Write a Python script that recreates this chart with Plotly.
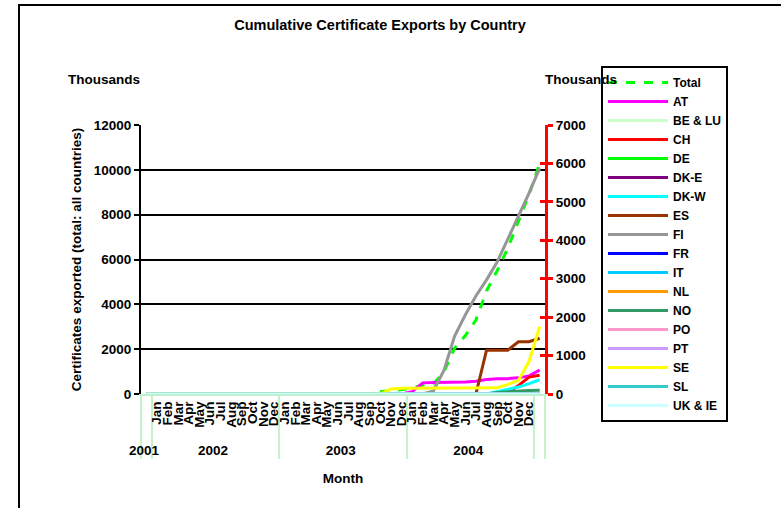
import plotly.graph_objects as go

W, H = 781, 508


def fx(x):
    return x / W


def fy(y):
    return 1 - y / H


# ---- category axis (multi-level: year / month) ----
year_labels = ["2001",
               "2002", "2002", "2002", "2002", "2002", "2002", "2002", "2002", "2002", "2002", "2002", "2002",
               "2003", "2003", "2003", "2003", "2003", "2003", "2003", "2003", "2003", "2003", "2003", "2003",
               "2004", "2004", "2004", "2004", "2004", "2004", "2004", "2004", "2004", "2004", "2004", "2004",
               " "]
month_labels = [" ",
                "Jan", "Feb", "Mar", "Apr", "May", "Jun", "Jul", "Aug", "Sep", "Oct", "Nov", "Dec",
                "Jan", "Feb", "Mar", "Apr", "May", "Jun", "Jul", "Aug", "Sep", "Oct", "Nov", "Dec",
                "Jan", "Feb", "Mar", "Apr", "May", "Jun", "Jul", "Aug", "Sep", "Oct", "Nov", "Dec",
                " "]

# ---- series values (thousands of certificates) ----
total = [0, 0, 0, 0, 0, 0, 0, 0, 0, 0, 0, 0, 0, 0, 0, 0, 0, 0, 0, 0, 0, 0,
         100, 150, 200, 250, 400, 450, 1000, 2050, 2600, 3300, 4600, 5500, 6500, 7700, 8900, 10300]
at = [0, 0, 0, 0, 0, 0, 0, 0, 0, 0, 0, 0, 0, 0, 0, 0, 0, 0, 0, 0, 0, 0, 0, 0, 0,
      60, 290, 300, 300, 300, 310, 330, 380, 400, 400, 420, 470, 620]
be_lu = [0, 0, 0, 0, 0, 0, 0, 0, 0, 0, 0, 0, 0, 0, 0, 0, 0, 0, 0,
         0, 0, 0, 0, 0, 0, 0, 0, 0, 0, 0, 0, 0, 0, 0, 0, 0, 0, 0]
ch = [0, 0, 0, 0, 0, 0, 0, 0, 0, 0, 0, 0, 0, 0, 0, 0, 0, 0, 0, 0, 0, 0, 0, 0, 0, 0, 0, 0, 0, 0, 0, 0, 0, 0,
      30, 220, 440, 490]
de = [0, 0, 0, 0, 0, 0, 0, 0, 0, 0, 0, 0, 0, 0, 0, 0, 0, 0, 0,
      0, 0, 0, 0, 0, 0, 0, 0, 0, 0, 0, 0, 0, 0, 0, 0, 0, 0, 0]
dk_e = [0, 0, 0, 0, 0, 0, 0, 0, 0, 0, 0, 0, 0, 0, 0, 0, 0, 0, 0,
        0, 0, 0, 0, 0, 0, 0, 0, 0, 0, 0, 0, 0, 0, 0, 0, 0, 0, 0]
dk_w = [0, 0, 0, 0, 0, 0, 0, 0, 0, 0, 0, 0, 0, 0, 0, 0, 0, 0, 0, 0, 0, 0, 0, 0, 0, 0, 0, 0, 0, 0, 0, 0, 0,
        60, 120, 180, 270, 370]
es = [0, 0, 0, 0, 0, 0, 0, 0, 0, 0, 0, 0, 0, 0, 0, 0, 0, 0, 0, 0, 0, 0, 0, 0, 0, 0, 0, 0, 0, 0, 0, 0,
      1140, 1140, 1140, 1360, 1360, 1450]
fi = [0, 0, 0, 0, 0, 0, 0, 0, 0, 0, 0, 0, 0, 0, 0, 0, 0, 0, 0, 0, 0, 0, 0, 0, 0, 0, 0,
      80, 620, 1510, 2055, 2550, 2970, 3435, 4010, 4630, 5230, 5880]
fr = [0, 0, 0, 0, 0, 0, 0, 0, 0, 0, 0, 0, 0, 0, 0, 0, 0, 0, 0,
      0, 0, 0, 0, 0, 0, 0, 0, 0, 0, 0, 0, 0, 0, 0, 0, 0, 0, 0]
it = [0, 0, 0, 0, 0, 0, 0, 0, 0, 0, 0, 0, 0, 0, 0, 0, 0, 0, 0,
      0, 0, 0, 0, 0, 0, 0, 0, 0, 0, 0, 0, 0, 0, 0, 0, 0, 0, 0]
nl = [0, 0, 0, 0, 0, 0, 0, 0, 0, 0, 0, 0, 0, 0, 0, 0, 0, 0, 0,
      0, 0, 0, 0, 0, 0, 0, 0, 0, 0, 0, 0, 0, 0, 0, 0, 0, 0, 0]
no = [0, 0, 0, 0, 0, 0, 0, 0, 0, 0, 0, 0, 0, 0, 0, 0, 0, 0, 0, 0, 0, 0, 0, 0, 0, 0, 0, 0, 0, 0, 0, 0, 0,
      40, 60, 80, 90, 100]
po = [0, 0, 0, 0, 0, 0, 0, 0, 0, 0, 0, 0, 0, 0, 0, 0, 0, 0, 0,
      0, 0, 0, 0, 0, 0, 0, 0, 0, 0, 0, 0, 0, 0, 0, 0, 0, 0, 0]
pt = [0, 0, 0, 0, 0, 0, 0, 0, 0, 0, 0, 0, 0, 0, 0, 0, 0, 0, 0,
      0, 0, 0, 0, 0, 0, 0, 0, 0, 0, 0, 0, 0, 0, 0, 0, 0, 0, 0]
se = [0, 0, 0, 0, 0, 0, 0, 0, 0, 0, 0, 0, 0, 0, 0, 0, 0, 0, 0, 0, 0, 0, 0,
      130, 150, 150, 150, 150, 150, 150, 150, 150, 150, 160, 250, 350, 850, 1750]
sl = [0, 0, 0, 0, 0, 0, 0, 0, 0, 0, 0, 0, 0, 0, 0, 0, 0, 0, 0,
      0, 0, 0, 0, 0, 0, 0, 0, 0, 0, 0, 0, 0, 0, 0, 0, 0, 0, 0]
uk_ie = [0, 0, 0, 0, 0, 0, 0, 0, 0, 0, 0, 0, 0, 0, 0, 0, 0, 0, 0,
         0, 0, 0, 0, 0, 0, 0, 0, 0, 0, 0, 0, 0, 0, 0, 0, 0, 0, 0]

country_names = ["AT", "BE & LU", "CH", "DE", "DK-E", "DK-W", "ES", "FI", "FR",
                 "IT", "NL", "NO", "PO", "PT", "SE", "SL", "UK & IE"]
country_values = [at, be_lu, ch, de, dk_e, dk_w, es, fi, fr, it, nl, no, po, pt, se, sl, uk_ie]
country_colors = ["#ff00ff", "#ccffcc", "#ff0000", "#00ff00", "#800080", "#00ffff",
                  "#993300", "#969696", "#0000ff", "#00ccff", "#ff9900", "#339966",
                  "#ff99cc", "#cc99ff", "#ffff00", "#33cccc", "#ccffff"]

FONT = "Liberation Sans, Arial, sans-serif"
x_cat = [year_labels, month_labels]


def bold(size, color="black"):
    return dict(size=size, family=FONT, weight="bold", color=color)


fig = go.Figure()
fig.add_trace(go.Scatter(x=x_cat, y=total, name="Total", mode="lines",
                         line=dict(color="#00ff00", width=3, dash="dash"), yaxis="y"))
for name, vals, col in zip(country_names, country_values, country_colors):
    fig.add_trace(go.Scatter(x=x_cat, y=vals, name=name, mode="lines",
                             line=dict(color=col, width=3), yaxis="y2"))
# invisible helper so the inner red tick axis is laid out
fig.add_trace(go.Scatter(x=x_cat, y=fi, yaxis="y3", mode="lines", opacity=0,
                         showlegend=False, hoverinfo="skip", line=dict(width=0)))

px0, px1 = 141, 545
py_top, py_bot = 125, 394
xdom = [fx(px0), fx(px1)]
ydom = [fy(py_bot), fy(py_top)]

fig.update_layout(
    width=W, height=H, autosize=False,
    margin=dict(l=0, r=0, t=0, b=0),
    paper_bgcolor="white", plot_bgcolor="white",
    font=bold(13),
    title=dict(text="Cumulative Certificate Exports by Country",
               x=fx(380), xanchor="center", y=fy(25), yanchor="middle",
               yref="paper", font=bold(14.5)),
    xaxis=dict(type="multicategory", domain=xdom, range=[-0.5, 37.5], automargin=False,
               tickmode="linear", tick0=0, dtick=1,
               tickangle=-90, tickfont=bold(13.5),
               showline=True, linecolor="#bff0cf", linewidth=2,
               showdividers=True, dividercolor="#c6f2c6", dividerwidth=2,
               ticks="", showgrid=False, zeroline=False,
               title=dict(text="Month", font=bold(13.5), standoff=17)),
    yaxis=dict(domain=ydom, range=[0, 12000], dtick=2000, tickformat="d", automargin=False,
               showline=True, linecolor="black", linewidth=2,
               ticks="outside", ticklen=5, tickwidth=2, tickcolor="black",
               showgrid=True, gridcolor="black", gridwidth=1.5, zeroline=False,
               tickfont=bold(13.5),
               title=dict(text="Certificates exported (total: all countries)",
                          font=bold(13.5), standoff=9)),
    yaxis2=dict(overlaying="y", side="right", anchor="x", range=[0, 7000], dtick=1000,
                tickformat="d", automargin=False,
                showline=True, linecolor="#ff0000", linewidth=3,
                ticks="outside", ticklen=5, tickwidth=3, tickcolor="#ff0000",
                showgrid=False, zeroline=False,
                tickfont=bold(13.5)),
    yaxis3=dict(overlaying="y", side="right", anchor="x", range=[0, 7000], dtick=1000,
                automargin=False,
                showline=False, ticks="inside", ticklen=5, tickwidth=3, tickcolor="#ff0000",
                showticklabels=False, showgrid=False, zeroline=False),
    legend=dict(x=fx(601), y=fy(66), xanchor="left", yanchor="top",
                bordercolor="black", borderwidth=2, bgcolor="rgba(0,0,0,0)",
                font=bold(12), entrywidth=80, entrywidthmode="pixels",
                itemwidth=60, tracegroupgap=0),
    annotations=[
        dict(text="Thousands", x=fx(104), y=fy(80), xref="paper", yref="paper",
             xanchor="center", yanchor="middle",
             showarrow=False, font=bold(13.5)),
        dict(text="Thousands", x=fx(581), y=fy(80), xref="paper", yref="paper",
             xanchor="center", yanchor="middle",
             showarrow=False, font=bold(13.5)),
    ],
    shapes=[dict(type="rect", xref="paper", yref="paper",
                 x0=fx(19), x1=1.05, y0=-0.05, y1=fy(5),
                 line=dict(color="black", width=2), layer="below")],
)

fig.write_html("out.html", config={"displayModeBar": False},
               post_script="document.body.style.margin='0px';")
